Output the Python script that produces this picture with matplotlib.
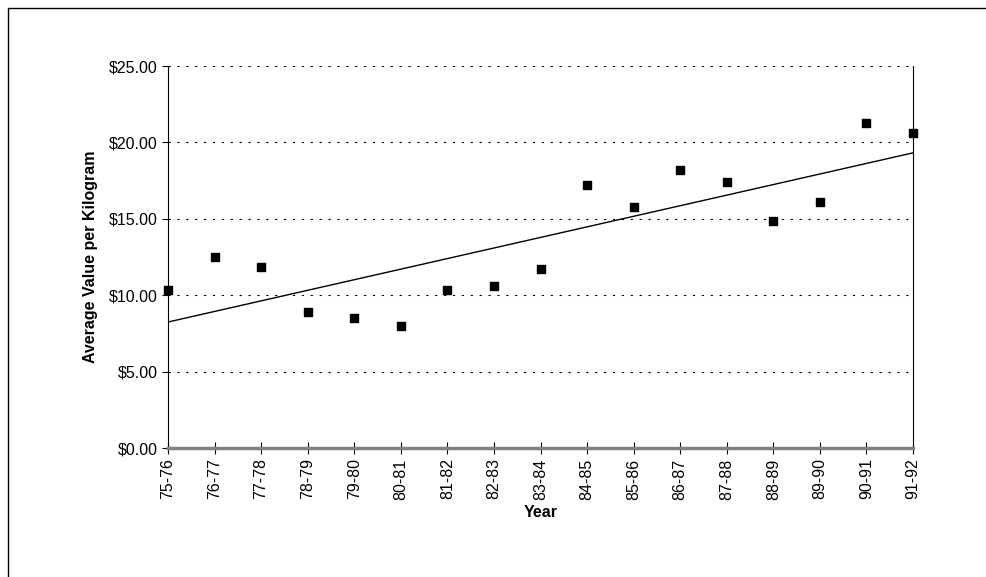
import numpy as np
import matplotlib.pyplot as plt
from matplotlib.patches import Rectangle

years = ['75-76', '76-77', '77-78', '78-79', '79-80', '80-81', '81-82', '82-83', '83-84',
         '84-85', '85-86', '86-87', '87-88', '88-89', '89-90', '90-91', '91-92']
values = [10.37, 12.52, 11.85, 8.91, 8.54, 7.96, 10.37, 10.57, 11.74,
          17.22, 15.74, 18.20, 17.39, 14.85, 16.11, 21.30, 20.63]

plt.rcParams['font.family'] = ['Liberation Sans', 'DejaVu Sans']

fig = plt.figure(figsize=(9.86, 5.77), dpi=100)
# outer frame, runs off the right and bottom edges like the original
fig.patches.append(Rectangle((8 / 986, -0.1), 1.0, 1.1 - 8 / 577,
                             transform=fig.transFigure, fill=False, ec='black', lw=1))
ax = fig.add_axes([168 / 986, 1 - 448 / 577, 745 / 986, 382 / 577])

x = np.arange(len(years))
ax.scatter(x, values, marker='s', s=32, color='black', zorder=3, clip_on=False)

# linear trend line
k, b = np.polyfit(x, values, 1)
ax.plot(x, k * x + b, color='black', lw=1)

ax.set_xlim(0, len(years) - 1)
ax.set_ylim(0, 25)
ax.set_yticks(np.arange(0, 26, 5))
ax.set_yticklabels(['${:.2f}'.format(v) for v in np.arange(0, 26, 5)], fontsize=11.5)
ax.set_xticks(x)
ax.set_xticklabels(years, rotation=90, fontsize=11.5)
ax.tick_params(axis='x', direction='inout', length=8)
ax.tick_params(axis='y', direction='out', length=4)
ax.grid(axis='y', color='black', linestyle=(0, (2, 6)), lw=0.8)
ax.spines['top'].set_visible(False)
ax.spines['bottom'].set_color('#808080')
ax.spines['bottom'].set_linewidth(2.5)
ax.set_xlabel('Year', fontsize=11.5, fontweight='bold')
ax.set_ylabel('Average Value per Kilogram', fontsize=11.5, fontweight='bold', labelpad=8)

fig.savefig('out.png', dpi=100)
